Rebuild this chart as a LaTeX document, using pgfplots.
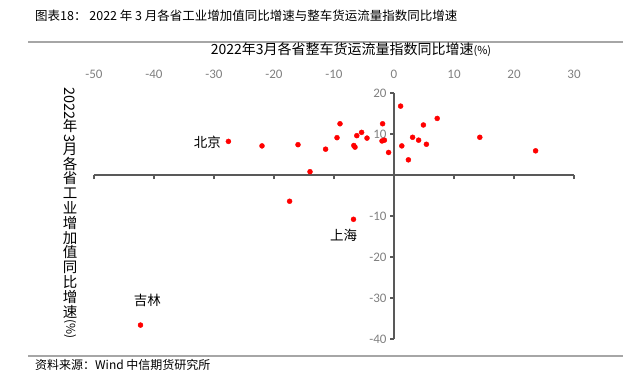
\documentclass[border=0pt]{standalone}
\usepackage{fontspec}
\setmainfont{Noto Sans CJK SC}
\newfontfamily\cjk{Noto Sans CJK SC}
\newfontfamily\carl{Carlito}
\usepackage{pgfplots}
\pgfplotsset{compat=1.18}
\definecolor{axgray}{HTML}{595959}
\definecolor{tickgray}{HTML}{808080}
\definecolor{rulegray}{HTML}{A6A6A6}
\makeatletter
\def\vstack#1{\vbox{\baselineskip-1pt\lineskip0pt\lineskiplimit0pt\ialign{\hss##\hss\cr#1\crcr}}}
\makeatother
\newcommand\vc[1]{\raisebox{0pt}[12pt][2.8pt]{#1}}
\newcommand\vr[1]{\rotatebox{-90}{#1}}
\begin{document}
\begin{tikzpicture}[x=1pt,y=1pt]
\useasboundingbox (0,0) rectangle (623,-385);
\node[anchor=west, inner sep=0, font=\cjk\fontsize{12.5}{14}\selectfont] at (35,-16) {图表18： 2022 年 3 月各省工业增加值同比增速与整车货运流量指数同比增速};
\draw[rulegray, line width=2.5pt] (28,-42) -- (623,-42);
\draw[rulegray, line width=2.5pt] (28,-356) -- (623,-356);
\node[anchor=west, inner sep=0, font=\cjk\fontsize{12}{14}\selectfont] at (35,-365) {资料来源：Wind 中信期货研究所};
\node[inner sep=0, font=\cjk\fontsize{14}{16}\selectfont] at (351,-50) {2022年3月各省整车货运流量指数同比增速{\fontsize{11}{12}\selectfont(\%)}};
\node[inner sep=0, anchor=north, font=\cjk\fontsize{14.5}{15}\selectfont] at (70,-87) {\vstack{\vr{2022}\cr\vc{年}\cr\vr{3}\cr\vc{月}\cr\vc{各}\cr\vc{省}\cr\vc{工}\cr\vc{业}\cr\vc{增}\cr\vc{加}\cr\vc{值}\cr\vc{同}\cr\vc{比}\cr\vc{增}\cr\vc{速}\cr\vr{\fontsize{12}{12}\selectfont (\%)}}};

\begin{axis}[at={(94pt,-339pt)}, anchor=south west, scale only axis,
  width=480pt, height=246pt,
  xmin=-50, xmax=30, ymin=-40, ymax=20,
  axis lines=middle,
  axis line style={axgray, line width=1.2pt, -},
  xtick={-50,-40,...,30}, ytick={-40,-30,...,20},
  xticklabel={\mbox{}},
  tick align=outside, major tick length=4pt,
  tick style={axgray, line width=1.2pt},
  yticklabel style={tickgray, font=\carl\fontsize{13}{14}\selectfont},
  /pgf/number format/assume math mode=true,
  clip=false]
\addplot[only marks, mark=*, mark size=2.5pt, color=red, mark options={draw=red, fill=red}] coordinates {
(-27.6,8.2) (-22.0,7.1) (-16.0,7.4) (-11.4,6.3) (-9.5,9.1) (-9.0,12.5) (-14.0,0.8) (-17.4,-6.4)
(-6.7,7.2) (-6.5,6.8) (-6.2,9.6) (-5.4,10.4) (-4.5,9.0) (-1.9,12.5) (-2.0,8.3) (-1.6,8.5) (-0.9,5.5)
(1.1,16.8) (1.3,7.1) (2.4,3.7) (3.1,9.2) (4.1,8.5) (4.9,12.2) (5.4,7.5) (7.2,13.8) (14.3,9.2) (23.6,5.9)
(-6.75,-10.8) (-42.25,-36.6)
};
\node[font=\cjk\fontsize{13.5}{14}\selectfont, inner sep=0] at (axis cs:-31.1,8.0) {北京};
\node[font=\cjk\fontsize{13.5}{14}\selectfont, inner sep=0] at (axis cs:-8.4,-14.6) {上海};
\node[font=\cjk\fontsize{13.5}{14}\selectfont, inner sep=0] at (axis cs:-41.1,-30.5) {吉林};
\end{axis}

\begin{axis}[at={(94pt,-339pt)}, anchor=south west, scale only axis,
  width=480pt, height=246pt,
  xmin=-50, xmax=30, ymin=-40, ymax=20,
  axis x line*=top, axis y line=none,
  x axis line style={draw=none},
  xtick={-50,-40,...,30}, major tick length=0pt,
  xticklabel style={tickgray, font=\carl\fontsize{13}{14}\selectfont, anchor=base, yshift=14.5pt},
  /pgf/number format/assume math mode=true]
\end{axis}
\end{tikzpicture}
\end{document}
